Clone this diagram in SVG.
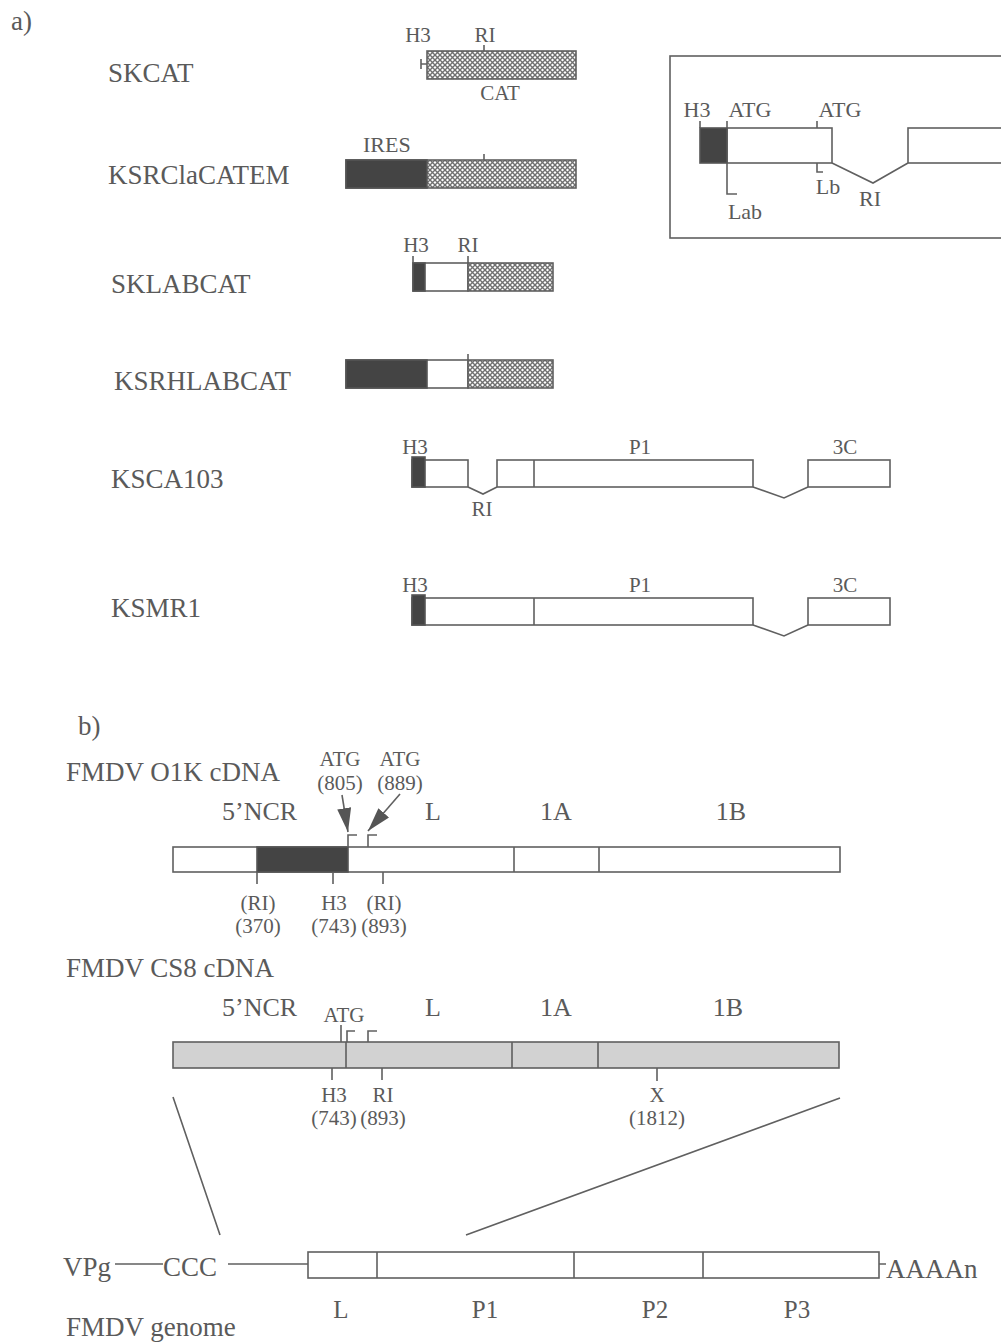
<svg xmlns="http://www.w3.org/2000/svg" width="1001" height="1342" viewBox="0 0 1001 1342">
<style>
text{font-family:"Liberation Serif","Times New Roman",serif;fill:#5a5a5a}
.big{font-size:27px}
.sm{font-size:21px}
.md{font-size:22px}
.lb{font-size:26px}
.gl{font-size:25px}
.m{text-anchor:middle}
.ln{stroke:#606060;stroke-width:1.6;fill:none}
.box{stroke:#606060;stroke-width:1.6;fill:#fff}
.dk{fill:#444;stroke:#555;stroke-width:1.6}
.ht{fill:url(#hatch);stroke:#606060;stroke-width:1.6}
.gr{fill:#d2d2d2;stroke:#606060;stroke-width:1.6}
</style>
<defs>
<pattern id="hatch" width="5" height="5" patternUnits="userSpaceOnUse">
<rect width="5" height="5" fill="#fff"/>
<path d="M0,0 L5,5 M5,0 L0,5" stroke="#707070" stroke-width="1.4"/>
</pattern>
<marker id="ah" markerUnits="userSpaceOnUse" markerWidth="24" markerHeight="14" refX="24" refY="7" orient="auto">
<path d="M0,0 L24,7 L0,14 z" fill="#555"/>
</marker>
</defs>
<rect width="1001" height="1342" fill="#fff"/>

<text class="big" x="11" y="30">a)</text>

<g id="skcat">
<text class="big" x="108" y="82">SKCAT</text>
<rect class="ht" x="427" y="51" width="149" height="28"/>
<path class="ln" d="M421,59 V69 M421,64 H427 M484,45 V51"/>
<text class="sm m" x="418" y="42">H3</text>
<text class="sm m" x="485" y="42">RI</text>
<text class="sm m" x="500" y="100">CAT</text>
</g>

<g id="ksrclacatem">
<text class="big" x="108" y="184">KSRClaCATEM</text>
<rect class="ht" x="346" y="160" width="230" height="28"/>
<rect class="dk" x="346" y="160" width="81" height="28"/>
<path class="ln" d="M484,154 V160"/>
<text class="md" x="363" y="152">IRES</text>
</g>

<g id="sklabcat">
<text class="big" x="111" y="293">SKLABCAT</text>
<rect class="box" x="413" y="263" width="55" height="28"/>
<rect class="ht" x="468" y="263" width="85" height="28"/>
<rect class="dk" x="413" y="263" width="12" height="28"/>
<path class="ln" d="M413,256 V263 M468,256 V263"/>
<text class="sm m" x="416" y="252">H3</text>
<text class="sm m" x="468" y="252">RI</text>
</g>

<g id="ksrhlabcat">
<text class="big" x="114" y="390">KSRHLABCAT</text>
<rect class="box" x="346" y="360" width="122" height="28"/>
<rect class="ht" x="468" y="360" width="85" height="28"/>
<rect class="dk" x="346" y="360" width="81" height="28"/>
<path class="ln" d="M468,354 V360"/>
</g>

<g id="ksca103">
<text class="big" x="111" y="488">KSCA103</text>
<rect class="box" x="412" y="460" width="56" height="27"/>
<rect class="dk" x="412" y="457" width="13" height="30"/>
<rect class="box" x="497" y="460" width="256" height="27"/>
<path class="ln" d="M534,460 V487 M468,487 L483,494 L497,487 M753,487 L784,498 L808,487"/>
<rect class="box" x="808" y="460" width="82" height="27"/>
<text class="sm m" x="415" y="454">H3</text>
<text class="sm m" x="640" y="454">P1</text>
<text class="sm m" x="845" y="454">3C</text>
<text class="sm m" x="482" y="516">RI</text>
</g>

<g id="ksmr1">
<text class="big" x="111" y="617">KSMR1</text>
<rect class="box" x="412" y="598" width="341" height="27"/>
<rect class="dk" x="412" y="595" width="13" height="30"/>
<path class="ln" d="M534,598 V625 M753,625 L784,636 L808,625"/>
<rect class="box" x="808" y="598" width="82" height="27"/>
<text class="sm m" x="415" y="592">H3</text>
<text class="sm m" x="640" y="592">P1</text>
<text class="sm m" x="845" y="592">3C</text>
</g>

<g id="inset">
<rect x="670" y="56" width="345" height="182" fill="none" stroke="#606060" stroke-width="1.6"/>
<rect class="box" x="727" y="128" width="105" height="35"/>
<rect class="dk" x="700" y="128" width="27" height="35"/>
<rect class="box" x="908" y="128" width="110" height="35"/>
<path class="ln" d="M700,121 V128 M727,121 V128 M817,121 V128 M727,163 V194 H737 M817,163 V172 H823 M832,163 L873,183 L908,163"/>
<text class="md m" x="697" y="117">H3</text>
<text class="md m" x="750" y="117">ATG</text>
<text class="md m" x="840" y="117">ATG</text>
<text class="md m" x="828" y="194">Lb</text>
<text class="md m" x="870" y="206">RI</text>
<text class="md m" x="745" y="219">Lab</text>
</g>

<text class="big" x="78" y="735">b)</text>

<g id="o1k">
<text class="big" x="66" y="781">FMDV O1K cDNA</text>
<text class="lb" x="222" y="820">5’NCR</text>
<text class="lb m" x="433" y="820">L</text>
<text class="lb m" x="556" y="820">1A</text>
<text class="lb m" x="731" y="820">1B</text>
<rect class="box" x="173" y="847" width="667" height="25"/>
<rect class="dk" x="257" y="847" width="91" height="25"/>
<path class="ln" d="M514,847 V872 M599,847 V872 M348,847 V835 H357 M368,847 V835 H377 M257,872 V884 M333,872 V884 M383,872 V884"/>
<text class="sm m" x="340" y="766">ATG</text>
<text class="sm m" x="340" y="790">(805)</text>
<text class="sm m" x="400" y="766">ATG</text>
<text class="sm m" x="400" y="790">(889)</text>
<path class="ln" d="M342,795 L348,832" marker-end="url(#ah)"/>
<path class="ln" d="M400,794 L368,831" marker-end="url(#ah)"/>
<text class="sm m" x="258" y="910">(RI)</text>
<text class="sm m" x="258" y="933">(370)</text>
<text class="sm m" x="334" y="910">H3</text>
<text class="sm m" x="334" y="933">(743)</text>
<text class="sm m" x="384" y="910">(RI)</text>
<text class="sm m" x="384" y="933">(893)</text>
</g>

<g id="cs8">
<text class="big" x="66" y="977">FMDV CS8 cDNA</text>
<text class="lb" x="222" y="1016">5’NCR</text>
<text class="lb m" x="433" y="1016">L</text>
<text class="lb m" x="556" y="1016">1A</text>
<text class="lb m" x="728" y="1016">1B</text>
<text class="sm m" x="344" y="1022">ATG</text>
<rect class="gr" x="173" y="1042" width="666" height="26"/>
<path class="ln" d="M346,1042 V1068 M512,1042 V1068 M598,1042 V1068 M341,1025 V1042 M347,1042 V1031 H355 M368,1042 V1031 H377 M332,1068 V1080 M382,1068 V1080 M657,1068 V1081"/>
<text class="sm m" x="334" y="1102">H3</text>
<text class="sm m" x="334" y="1125">(743)</text>
<text class="sm m" x="383" y="1102">RI</text>
<text class="sm m" x="383" y="1125">(893)</text>
<text class="sm m" x="657" y="1102">X</text>
<text class="sm m" x="657" y="1125">(1812)</text>
</g>

<g id="connectors">
<path class="ln" d="M173,1097 L220,1235 M840,1098 L466,1235"/>
</g>

<g id="genome">
<text class="big" x="63" y="1276">VPg</text>
<path class="ln" d="M115,1264 H163 M228,1264 H308"/>
<text class="big" x="163" y="1276">CCC</text>
<rect class="box" x="308" y="1252" width="571" height="26"/>
<path class="ln" d="M377,1252 V1278 M574,1252 V1278 M703,1252 V1278 M879,1264 H886"/>
<text class="big" x="886" y="1278">AAAAn</text>
<text class="gl m" x="341" y="1318">L</text>
<text class="gl m" x="485" y="1318">P1</text>
<text class="gl m" x="655" y="1318">P2</text>
<text class="gl m" x="797" y="1318">P3</text>
<text class="big" x="66" y="1336">FMDV genome</text>
</g>
</svg>
